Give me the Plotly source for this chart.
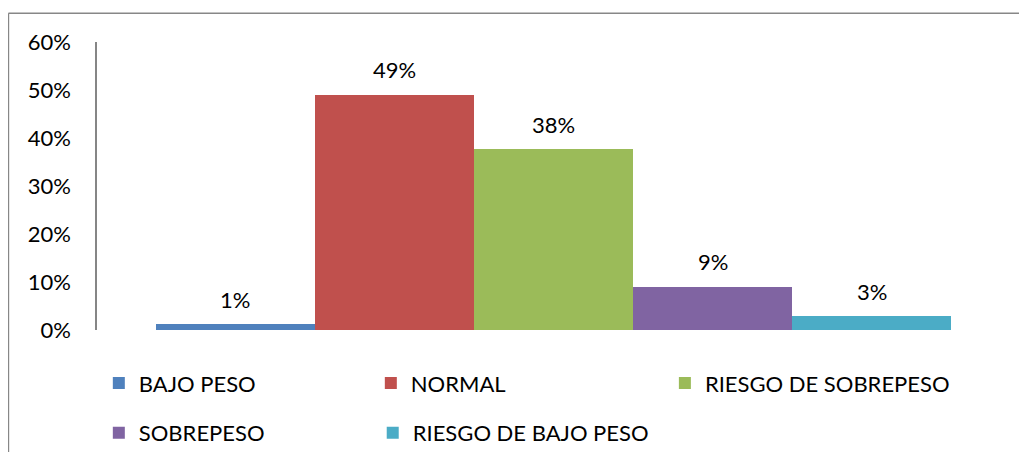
import plotly.graph_objects as go

# Datos
categorias = ["BAJO PESO", "NORMAL", "RIESGO DE SOBREPESO", "SOBREPESO", "RIESGO DE BAJO PESO"]
valores = [0.012, 0.49, 0.377, 0.09, 0.029]
colores = ["#4F81BD", "#C0504D", "#9BBB59", "#8064A2", "#4BACC6"]
grupos_leyenda = ["legend", "legend", "legend3", "legend2", "legend4"]
ticks_y = [0, 0.1, 0.2, 0.3, 0.4, 0.5, 0.6]

fuente = "Lato"
tam = 22

fig = go.Figure()

for i, (cat, val, col, leg) in enumerate(zip(categorias, valores, colores, grupos_leyenda)):
    fig.add_trace(go.Bar(
        x=[i], y=[val], name=cat, width=1, legend=leg,
        marker=dict(color=col, line=dict(width=0)),
        hoverinfo="name+y",
    ))
    # etiqueta de datos encima de la barra
    fig.add_annotation(
        x=i, y=val, text=f"{val:.0%}", showarrow=False,
        yshift=25, font=dict(family=fuente, size=tam, color="#000000"),
    )

# marco del grafico (solo se ve arriba y a la izquierda)
fig.add_shape(type="line", xref="paper", yref="paper",
              x0=-0.097, x1=1.2, y0=1.1, y1=1.1,
              line=dict(color="#878787", width=1.5))
fig.add_shape(type="line", xref="paper", yref="paper",
              x0=-0.097, x1=-0.097, y0=1.1, y1=-0.6,
              line=dict(color="#878787", width=1.5))

leyenda = dict(
    orientation="h", xanchor="left", yanchor="middle", yref="container",
    entrywidth=227, entrywidthmode="pixels",
    font=dict(family=fuente, size=tam), bgcolor="rgba(0,0,0,0)",
    traceorder="normal",
)
leyenda_sola = dict(leyenda, entrywidth=0)

fig.update_layout(
    width=1011, height=444,
    margin=dict(l=89, r=9, t=34, b=122),
    paper_bgcolor="white", plot_bgcolor="white",
    font=dict(family=fuente, size=tam, color="#000000"),
    bargap=0,
    showlegend=True,
    legend=dict(leyenda, x=0.002, y=0.155),
    legend3=dict(leyenda_sola, x=0.622, y=0.155),
    legend2=dict(leyenda_sola, x=0.002, y=0.043),
    legend4=dict(leyenda_sola, x=0.302, y=0.043),
    xaxis=dict(
        range=[-0.871, 4.871], showticklabels=False, showgrid=False,
        zeroline=False, showline=False, fixedrange=True,
    ),
    yaxis=dict(
        range=[0, 0.6], tickvals=ticks_y, tickformat=".0%",
        showgrid=False, zeroline=False,
        showline=True, linecolor="#868686", linewidth=1.5,
        ticks="", ticklabelstandoff=20,
        tickfont=dict(family=fuente, size=tam),
    ),
)

fig.write_html("out.html")
